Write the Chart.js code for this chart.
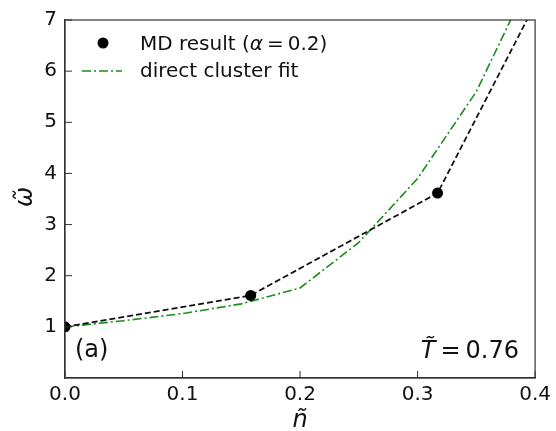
<!DOCTYPE html>
<html><head><meta charset="utf-8">
<script src="https://cdn.jsdelivr.net/npm/chart.js@4"></script>
<style>html,body{margin:0;padding:0;background:#fff}#wrap{width:556px;height:431px}</style>
</head><body><div id="wrap"><canvas id="c" width="556" height="431"></canvas></div>
<script>
// Data
const mdN = [0.0, 0.158, 0.317, 0.40];
const mdOmega = [1.0, 1.615, 3.615, 7.31];
const mdMarker = [true, true, true, false];
const fitN = [0.0, 0.05, 0.10, 0.15, 0.20, 0.25, 0.30, 0.35, 0.40];
const fitOmega = [1.0, 1.12, 1.26, 1.45, 1.76, 2.65, 3.90, 5.60, 8.00];
const xTicks = [0.0, 0.1, 0.2, 0.3, 0.4];
const yTicks = [1, 2, 3, 4, 5, 6, 7];

const FONT = "'DejaVu Sans', sans-serif";
const GREEN = '#1c8c1c';
const TXT = '#111';

const deco = {
  id: 'deco',
  afterDraw(chart) {
    const ctx = chart.ctx, a = chart.chartArea;
    const xs = chart.scales.x, ys = chart.scales.y;
    ctx.save();
    // frame
    ctx.strokeStyle = '#333'; ctx.lineWidth = 1.2;
    ctx.strokeRect(a.left, a.top, a.right - a.left, a.bottom - a.top);
    // inward ticks
    ctx.lineWidth = 1;
    xTicks.forEach(v => { const p = xs.getPixelForValue(v); ctx.beginPath(); ctx.moveTo(p, a.bottom); ctx.lineTo(p, a.bottom - 7); ctx.stroke(); });
    yTicks.forEach(v => { const p = ys.getPixelForValue(v); ctx.beginPath(); ctx.moveTo(a.left, p); ctx.lineTo(a.left + 7, p); ctx.stroke(); });
    // legend
    ctx.fillStyle = '#000';
    ctx.beginPath(); ctx.arc(103, 43, 5.5, 0, Math.PI * 2); ctx.fill();
    ctx.fillStyle = TXT;
    ctx.textBaseline = 'alphabetic'; ctx.textAlign = 'left';
    let x = 140;
    const seg = (t, f, y, gap) => { ctx.font = f; ctx.fillText(t, x, y); x += ctx.measureText(t).width + (gap || 0); };
    seg('MD result (', `20px ${FONT}`, 49.5);
    seg('α', `italic 20px ${FONT}`, 49.5, 4);
    seg('=', `20px ${FONT}`, 49.5, 4);
    seg('0.2)', `20px ${FONT}`, 49.5);
    ctx.font = `20px ${FONT}`;
    ctx.fillText('direct cluster fit', 140, 77);
    ctx.strokeStyle = GREEN; ctx.lineWidth = 1.5; ctx.setLineDash([9, 3, 2, 3]);
    ctx.beginPath(); ctx.moveTo(82, 71); ctx.lineTo(122, 71); ctx.stroke();
    ctx.setLineDash([]);
    // annotations
    ctx.font = `24px ${FONT}`;
    ctx.fillText('(a)', 75, 357);
    ctx.font = `24px ${FONT}`;
    const wEq = ctx.measureText('=').width, wNum = ctx.measureText('0.76').width;
    ctx.font = `italic 24px ${FONT}`;
    const wT = ctx.measureText('T').width;
    x = 519 - (wT + 5 + wEq + 5 + wNum);
    seg('T\u0303', `italic 24px ${FONT}`, 358, 0);
    x = 519 - (wEq + 5 + wNum);
    seg('=', `24px ${FONT}`, 358, 5);
    seg('0.76', `24px ${FONT}`, 358);
    // axis titles
    ctx.font = `italic 24px ${FONT}`;
    ctx.textAlign = 'center';
    ctx.fillText('n\u0303', 300, 427);
    ctx.translate(32, 197); ctx.rotate(-Math.PI / 2);
    ctx.fillText('\u03C9\u0303', 0, 0);
    ctx.restore();
  }
};

new Chart(document.getElementById('c'), {
  type: 'scatter',
  data: {
    datasets: [
      {
        label: 'direct cluster fit',
        data: fitN.map((n, i) => ({ x: n, y: fitOmega[i] })),
        showLine: true, borderColor: GREEN, borderWidth: 1.6,
        borderDash: [9, 3, 2, 3], pointRadius: 0, fill: false, order: 2
      },
      {
        label: 'MD result',
        data: mdN.map((n, i) => ({ x: n, y: mdOmega[i] })),
        showLine: true, borderColor: '#111', borderWidth: 1.8, borderDash: [6, 3],
        pointRadius: mdMarker.map(m => m ? 5.5 : 0), pointBackgroundColor: '#000',
        pointBorderColor: '#000', pointBorderWidth: 0, fill: false, order: 1
      }
    ]
  },
  options: {
    responsive: false, animation: false, devicePixelRatio: 1,
    layout: { padding: { left: 0, top: 15, right: 20, bottom: 0 } },
    plugins: { legend: { display: false }, tooltip: { enabled: false } },
    scales: {
      x: {
        type: 'linear', min: 0, max: 0.4,
        afterBuildTicks: s => { s.ticks = xTicks.map(v => ({ value: v })); },
        afterFit: s => { s.height = 53; },
        grid: { display: false, drawTicks: false },
        border: { display: true, color: '#333', width: 1.2 },
        ticks: { font: { family: FONT, size: 20 }, color: TXT, padding: 5, maxRotation: 0,
                 callback: v => Number(v).toFixed(1) }
      },
      y: {
        type: 'linear', min: 0, max: 7,
        afterBuildTicks: s => { s.ticks = yTicks.map(v => ({ value: v })); },
        afterFit: s => { s.width = 65; },
        grid: { display: false, drawTicks: false },
        border: { display: true, color: '#333', width: 1.2 },
        ticks: { font: { family: FONT, size: 20 }, color: TXT, padding: 8,
                 callback: v => String(v) }
      }
    }
  },
  plugins: [deco]
});
</script>
</body></html>
